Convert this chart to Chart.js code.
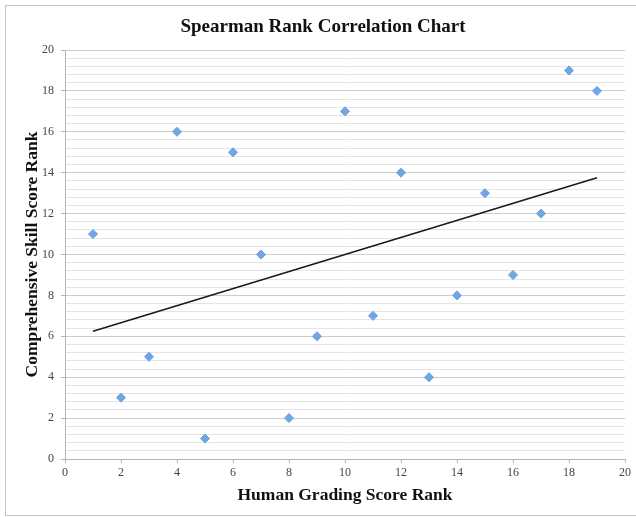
<!DOCTYPE html>
<html>
<head>
<meta charset="utf-8">
<script src="https://cdn.jsdelivr.net/npm/chart.js@4.4.0/dist/chart.umd.min.js"></script>
<style>
  body { margin: 0; background: #fff; }
  canvas { display: block; }
</style>
</head>
<body>
<canvas id="myChart" width="636" height="517"></canvas>
<script>
// Ranks
const humanRank = [1, 2, 3, 4, 5, 6, 7, 8, 9, 10, 11, 12, 13, 14, 15, 16, 17, 18, 19]
const skillRank = [11, 3, 5, 16, 1, 15, 10, 2, 6, 17, 7, 14, 4, 8, 13, 9, 12, 19, 18]

// Trend line end points
const trendX = [1, 19]
const trendY = [6.25, 13.75]

const majorStep = 2
const minorStep = 0.4

const serif = "'Liberation Serif', 'Times New Roman', serif"

function isMajor(v) {
    return Math.abs(v / majorStep - Math.round(v / majorStep)) < 1e-6
}

// grey frame round the whole chart, like the spreadsheet export
const framePlugin = {
    id: 'frame',
    beforeDraw(chart) {
        const ctx = chart.ctx
        ctx.save()
        ctx.fillStyle = '#fff'
        ctx.fillRect(0, 0, chart.width, chart.height)
        ctx.strokeStyle = '#c4c4c4'
        ctx.lineWidth = 1
        ctx.strokeRect(5.5, 5.5, 660, 510)
        ctx.restore()
    }
}

function drawChart() {
    const points = humanRank.map((x, i) => ({ x: x, y: skillRank[i] }))
    const trend = trendX.map((x, i) => ({ x: x, y: trendY[i] }))

    const ctx = document.getElementById('myChart').getContext('2d')
    new Chart(ctx, {
        type: 'scatter',
        data: {
            datasets: [{
                label: 'Ranks',
                data: points,
                pointStyle: 'rectRot',
                pointRadius: 4.5,
                backgroundColor: '#72a5e6',
                borderColor: '#6a9de0',
                borderWidth: 1,
                order: 1
            }, {
                label: 'Trend',
                data: trend,
                showLine: true,
                pointRadius: 0,
                borderColor: '#1a1a1a',
                borderWidth: 1.6,
                order: 2
            }]
        },
        options: {
            responsive: false,
            animation: false,
            // left padding pushes the title centre to the right, like the original
            layout: { padding: { left: 21, right: 11, top: 0, bottom: 0 } },
            plugins: {
                legend: { display: false },
                tooltip: { enabled: false },
                title: {
                    display: true,
                    text: 'Spearman Rank Correlation Chart',
                    color: '#111',
                    font: { family: serif, size: 19, weight: 'bold' },
                    padding: { top: 15.6, bottom: 11.6 }
                }
            },
            scales: {
                x: {
                    type: 'linear',
                    min: 0,
                    max: 20,
                    ticks: {
                        stepSize: majorStep,
                        color: '#444',
                        font: { family: serif, size: 12 },
                        padding: 3,
                        maxRotation: 0
                    },
                    grid: {
                        drawOnChartArea: false,
                        drawTicks: true,
                        tickLength: 4,
                        tickColor: '#b5b5b5'
                    },
                    border: { color: '#b5b5b5' },
                    title: {
                        display: true,
                        text: 'Human Grading Score Rank',
                        color: '#111',
                        font: { family: serif, size: 17.5, weight: 'bold' },
                        padding: { top: 0, bottom: 11.5 }
                    },
                    afterFit(scale) { scale.height = 58 }
                },
                y: {
                    min: 0,
                    max: 20,
                    ticks: {
                        stepSize: minorStep,
                        autoSkip: false,
                        color: '#444',
                        font: { family: serif, size: 12 },
                        padding: 7,
                        callback: v => isMajor(v) ? String(Math.round(v)) : ''
                    },
                    grid: {
                        tickLength: 4,
                        color: c => isMajor(c.tick.value) ? '#cdcdcd' : '#e4e4e4',
                        tickColor: c => isMajor(c.tick.value) ? '#b5b5b5' : 'rgba(0,0,0,0)'
                    },
                    border: { color: '#b5b5b5' },
                    title: {
                        display: true,
                        text: 'Comprehensive Skill Score Rank',
                        color: '#111',
                        font: { family: serif, size: 17.5, weight: 'bold' },
                        padding: { top: 0.5, bottom: 0 }
                    },
                    afterFit(scale) { scale.width = 44 }
                }
            }
        },
        plugins: [framePlugin]
    })
}

window.onload = () => {
    drawChart()
}
</script>
</body>
</html>
